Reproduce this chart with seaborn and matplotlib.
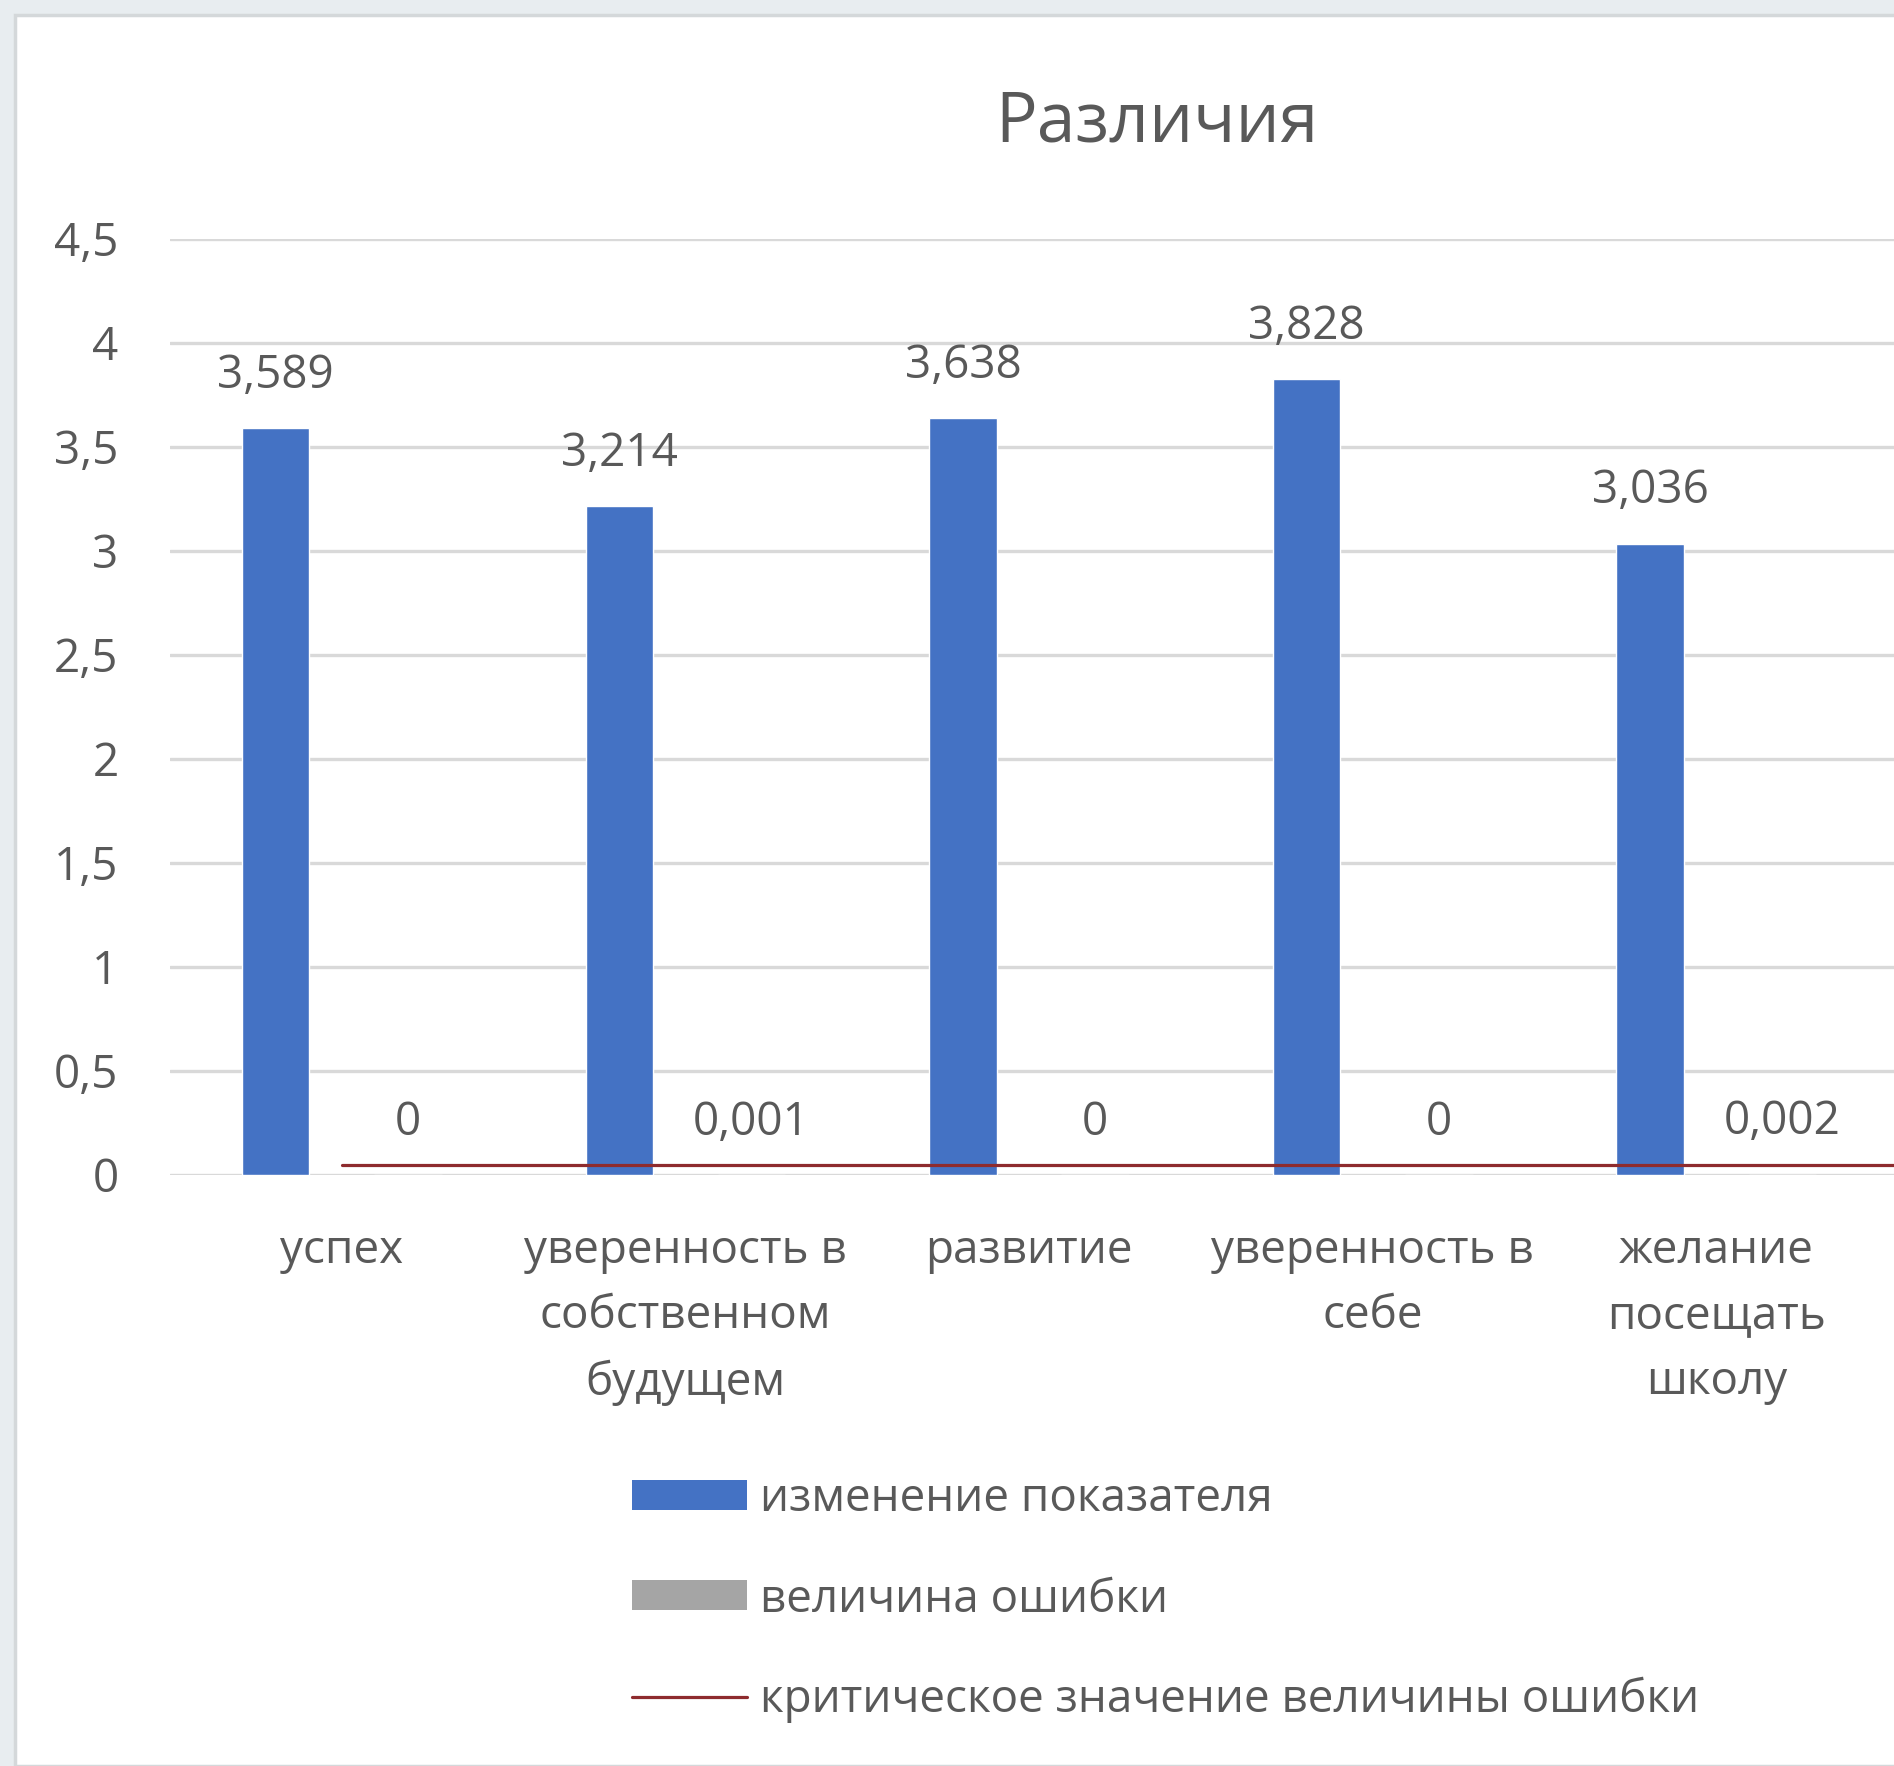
import matplotlib
matplotlib.use("Agg")
import matplotlib.pyplot as plt
from matplotlib.patches import Patch, Rectangle
from matplotlib.lines import Line2D
from matplotlib.ticker import FuncFormatter, MultipleLocator
import seaborn as sns
import pandas as pd

# ---- data ----
categories = ["успех", "уверенность в\nсобственном\nбудущем", "развитие",
              "уверенность в\nсебе", "желание\nпосещать\nшколу"]
change_values = [3.589, 3.214, 3.638, 3.828, 3.036]
error_values = [0, 0.001, 0, 0, 0.002]
critical_value = 0.05
series_names = ["изменение показателя", "величина ошибки",
                "критическое значение величины ошибки"]
title_text = "Различия"

BLUE = "#4472C4"
GREY = "#A5A5A5"
RED = "#8E2B2E"
TEXT = "#595959"
GRID = "#D9D9D9"

df = pd.DataFrame({
    "category": categories * 2,
    "value": change_values + error_values,
    "series": [series_names[0]] * len(categories) + [series_names[1]] * len(categories),
})

sns.set_theme(style="white")
plt.rcParams["font.family"] = ["Open Sans", "DejaVu Sans"]

W, H = 1894, 1766
fig = plt.figure(figsize=(W / 100, H / 100), dpi=100)
fig.patch.set_facecolor("#E8EDF0")
# white chart panel
fig.patches.append(Rectangle((15 / W, 0), 1, 1 - 15 / H, transform=fig.transFigure,
                             facecolor="white", edgecolor="#D4D8DA", linewidth=2.5,
                             zorder=-10))

ax = fig.add_axes([170 / W, 1 - 1175 / H, 1 - 170 / W, (1175 - 239) / H])
ax.set_facecolor("none")
ax.set_zorder(1)

sns.barplot(data=df, x="category", y="value", hue="series",
            palette=[BLUE, GREY], saturation=1, width=0.77, gap=0.49,
            errorbar=None, legend=False, ax=ax, zorder=3)

ax.set_xlim(-0.5, 4.517)
ax.set_ylim(0, 4.5)
xl = ax.get_xlim()
ax.axhline(critical_value, xmin=(0 - xl[0]) / (xl[1] - xl[0]), xmax=1,
           color=RED, lw=2.3, zorder=4)

fmt = lambda v: f"{v:g}".replace(".", ",")
for cont in ax.containers:
    ax.bar_label(cont, labels=[fmt(b.get_height()) for b in cont], padding=21,
                 fontsize=33, color=TEXT)

ax.yaxis.set_major_locator(MultipleLocator(0.5))
ax.yaxis.set_major_formatter(FuncFormatter(lambda v, p: fmt(round(v, 1))))
ax.grid(axis="y", color=GRID, linewidth=2.4, zorder=0)
ax.set_axisbelow(True)
for s in ax.spines.values():
    s.set_visible(False)
ax.tick_params(axis="both", length=0, labelsize=33, colors=TEXT)
ax.tick_params(axis="y", pad=37)
ax.tick_params(axis="x", pad=38)
for t in ax.get_xticklabels():
    t.set_linespacing(1.56)
ax.set_xlabel("")
ax.set_ylabel("")

fig.text(1157 / W, 1 - 123 / H, title_text, ha="center", va="center",
         fontsize=50, color=TEXT)

handles = [Patch(facecolor=BLUE, edgecolor="none"),
           Patch(facecolor=GREY, edgecolor="none"),
           Line2D([0], [0], color=RED, lw=2.3)]
leg = fig.legend(handles, series_names, loc="upper left",
                 bbox_to_anchor=(632 / W, 1 - 1476 / H), frameon=False,
                 fontsize=33, labelcolor=TEXT, handlelength=2.5, handleheight=0.63,
                 handletextpad=0.3, labelspacing=1.19, borderpad=0, borderaxespad=0)

fig.savefig("out.png", dpi=100, facecolor=fig.get_facecolor())
